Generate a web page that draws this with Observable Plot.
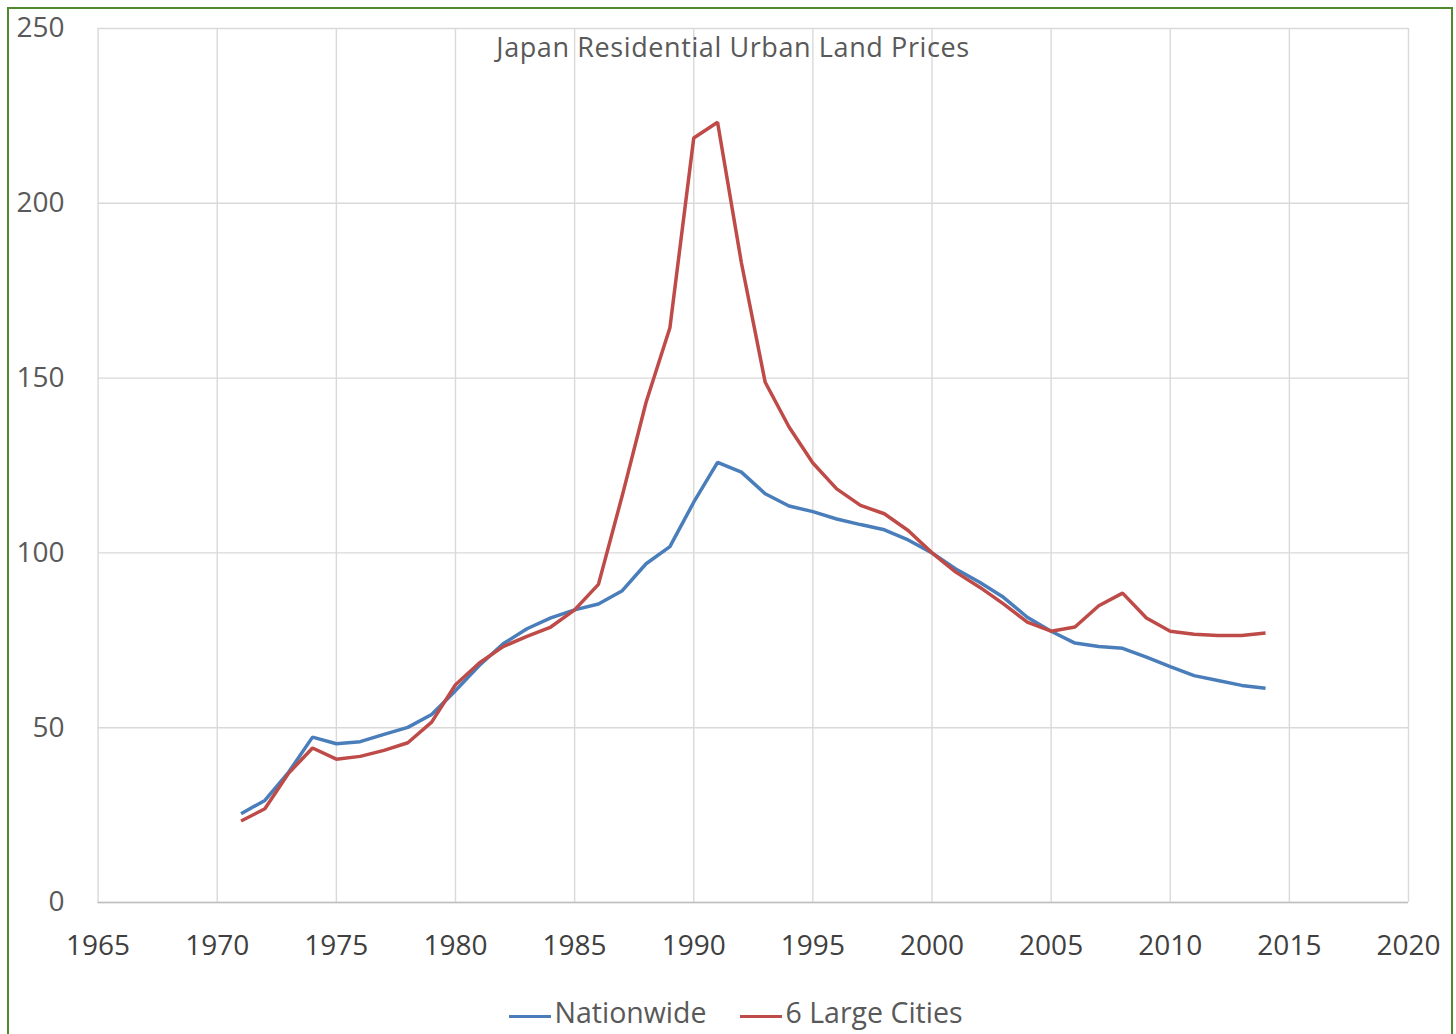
<!DOCTYPE html>
<html>
<head>
<meta charset="utf-8">
<script src="https://cdn.jsdelivr.net/npm/d3@7"></script>
<script src="https://cdn.jsdelivr.net/npm/@observablehq/plot@0.6"></script>
<style>
  html, body { margin: 0; padding: 0; background: #fff; overflow: hidden; }
  #wrap { position: relative; width: 1456px; height: 1034px; font-family: "Open Sans", "Noto Sans", sans-serif; }
  #frame { position: absolute; left: 7px; top: 7px; width: 1446px; height: 1060px; border: 2px solid #4f8a2e; box-sizing: border-box; pointer-events: none; }
  #chart { position: absolute; left: 0; top: 0; }
  #title { position: absolute; left: 0; width: 1466px; top: 30px; line-height: 34px; text-align: center; font-size: 27px; letter-spacing: 0.6px; color: #595959; }
  #legend { position: absolute; left: 0; width: 1472px; top: 994px; text-align: center; font-size: 28.5px; color: #595959; line-height: 36px; white-space: nowrap; }
  .item { display: inline-block; margin: 0 17px; }
  .sw { display: inline-block; width: 42px; height: 3.5px; vertical-align: middle; margin-right: 3px; position: relative; top: 1px; }
</style>
</head>
<body>
<div id="wrap">
  <div id="chart"></div>
  <div id="title"></div>
  <div id="legend"></div>
  <div id="frame"></div>
</div>
<script>
const chartTitle = "Japan Residential Urban Land Prices";
const seriesNames = ["Nationwide", "6 Large Cities"];
const seriesColors = ["#4a7ebb", "#be4b48"];
const years = [1971,1972,1973,1974,1975,1976,1977,1978,1979,1980,
               1981,1982,1983,1984,1985,1986,1987,1988,1989,1990,
               1991,1992,1993,1994,1995,1996,1997,1998,1999,2000,
               2001,2002,2003,2004,2005,2006,2007,2008,2009,2010,
               2011,2012,2013,2014];
const nationwide = [25.4,29.2,37.3,47.3,45.4,46.0,48.1,50.1,53.8,60.6,
                    67.8,74.0,78.3,81.4,83.7,85.4,89.2,96.9,101.8,114.5,
                    125.9,123.1,116.9,113.4,111.8,109.7,108.1,106.6,103.7,100.0,
                    95.4,91.6,87.3,81.6,77.6,74.2,73.2,72.7,70.2,67.5,
                    64.9,63.5,62.1,61.3];
const largeCities = [23.3,26.8,37.0,44.2,41.0,41.8,43.5,45.7,51.6,62.3,
                     68.5,73.2,76.1,78.8,83.7,91.0,116.4,143.1,164.4,218.7,
                     223.2,183.0,148.8,136.0,125.7,118.3,113.6,111.2,106.4,100.0,
                     94.5,90.2,85.4,80.2,77.6,78.8,84.9,88.5,81.4,77.6,
                     76.7,76.4,76.4,77.1];
const xTicks = [1965,1970,1975,1980,1985,1990,1995,2000,2005,2010,2015,2020];
const yTicks = [0,50,100,150,200,250];

const rows = [];
years.forEach((y, i) => {
  rows.push({year: y, value: nationwide[i], series: seriesNames[0]});
});
years.forEach((y, i) => {
  rows.push({year: y, value: largeCities[i], series: seriesNames[1]});
});

const plot = Plot.plot({
  width: 1456,
  height: 980,
  marginLeft: 97.6,
  marginRight: 48,
  marginTop: 28,
  marginBottom: 78,
  style: { fontFamily: '"Open Sans", "Noto Sans", sans-serif', fontSize: "28px", color: "#595959", background: "transparent" },
  x: { domain: [1965, 2020], ticks: xTicks, tickFormat: d => String(d), tickSize: 0, tickPadding: 33, label: null },
  y: { domain: [0, 250], ticks: yTicks, tickSize: 0, tickPadding: 33.6, label: null },
  color: { domain: seriesNames, range: seriesColors },
  marks: [
    Plot.gridX(xTicks, { stroke: "#d9d9d9", strokeOpacity: 1, strokeWidth: 1.4 }),
    Plot.gridY(yTicks, { stroke: "#d9d9d9", strokeOpacity: 1, strokeWidth: 1.4 }),
    Plot.ruleY([0], { stroke: "#bfbfbf", strokeWidth: 1.6 }),
    Plot.axisX({ ticks: xTicks, tickFormat: d => String(d), tickSize: 0, tickPadding: 33, fill: "#404040", label: null }),
    Plot.axisY({ ticks: yTicks, tickSize: 0, tickPadding: 33.6, fill: "#595959", label: null }),
    Plot.line(rows, { x: "year", y: "value", z: "series", stroke: "series", strokeWidth: 3.5, strokeLinejoin: "miter", strokeLinecap: "butt" })
  ]
});
document.getElementById("chart").appendChild(plot);
document.getElementById("title").textContent = chartTitle;

const legend = document.getElementById("legend");
seriesNames.forEach((name, i) => {
  const item = document.createElement("span");
  item.className = "item";
  const sw = document.createElement("span");
  sw.className = "sw";
  sw.style.background = seriesColors[i];
  item.appendChild(sw);
  item.appendChild(document.createTextNode(name));
  legend.appendChild(item);
});
</script>
</body>
</html>
